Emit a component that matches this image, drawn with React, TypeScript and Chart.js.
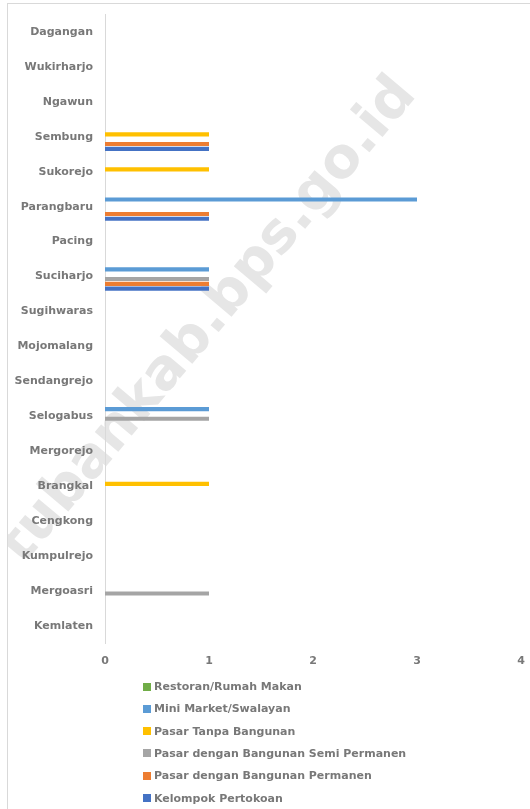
import React, { useEffect, useRef } from "react";
import { Chart, registerables } from "chart.js";

Chart.register(...registerables);

const categories = [
  "Dagangan", "Wukirharjo", "Ngawun", "Sembung", "Sukorejo", "Parangbaru",
  "Pacing", "Suciharjo", "Sugihwaras", "Mojomalang", "Sendangrejo", "Selogabus",
  "Mergorejo", "Brangkal", "Cengkong", "Kumpulrejo", "Mergoasri", "Kemlaten",
];

const seriesNames = [
  "Restoran/Rumah Makan",
  "Mini Market/Swalayan",
  "Pasar Tanpa Bangunan",
  "Pasar dengan Bangunan Semi Permanen",
  "Pasar dengan Bangunan Permanen",
  "Kelompok Pertokoan",
];

const seriesColors = ["#70AD47", "#5B9BD5", "#FFC000", "#A5A5A5", "#ED7D31", "#4472C4"];

const restoran = [0, 0, 0, 0, 0, 0, 0, 0, 0, 0, 0, 0, 0, 0, 0, 0, 0, 0];
const miniMarket = [0, 0, 0, 0, 0, 3, 0, 1, 0, 0, 0, 1, 0, 0, 0, 0, 0, 0];
const pasarTanpa = [0, 0, 0, 1, 1, 0, 0, 0, 0, 0, 0, 0, 0, 1, 0, 0, 0, 0];
const pasarSemi = [0, 0, 0, 0, 0, 0, 0, 1, 0, 0, 0, 1, 0, 0, 0, 0, 1, 0];
const pasarPermanen = [0, 0, 0, 1, 0, 1, 0, 1, 0, 0, 0, 0, 0, 0, 0, 0, 0, 0];
const kelompok = [0, 0, 0, 1, 0, 1, 0, 1, 0, 0, 0, 0, 0, 0, 0, 0, 0, 0];

const seriesValues = [restoran, miniMarket, pasarTanpa, pasarSemi, pasarPermanen, kelompok];

const xTicks = [0, 1, 2, 3, 4];

const FONT = "'DejaVu Sans', Verdana, sans-serif";
const TEXT = "#787878";

export default function App() {
  const canvasRef = useRef<HTMLCanvasElement | null>(null);

  useEffect(() => {
    if (!canvasRef.current) return;
    const chart = new Chart(canvasRef.current, {
      type: "bar",
      data: {
        labels: categories,
        datasets: seriesNames.map((name, i) => ({
          label: name,
          data: seriesValues[i],
          backgroundColor: seriesColors[i],
          borderWidth: 0,
          categoryPercentage: 0.83,
          barPercentage: 0.85,
        })),
      },
      options: {
        indexAxis: "y",
        animation: false,
        responsive: false,
        maintainAspectRatio: false,
        layout: { padding: { left: 0, right: 9, top: 10.5, bottom: 135.5 } },
        plugins: {
          legend: { display: false },
          tooltip: { enabled: false },
        },
        scales: {
          x: {
            min: 0,
            max: 4,
            afterBuildTicks: (axis: any) => {
              axis.ticks = xTicks.map((v) => ({ value: v }));
            },
            afterFit: (axis: any) => {
              axis.height = 30;
              axis.paddingLeft = 0;
              axis.paddingRight = 0;
            },
            grid: { display: false, drawTicks: false },
            border: { display: false },
            ticks: {
              padding: 11,
              color: TEXT,
              font: { family: FONT, size: 11, weight: "bold" },
            },
          },
          y: {
            afterFit: (axis: any) => {
              axis.width = 97;
              axis.paddingTop = 0;
              axis.paddingBottom = 0;
            },
            grid: { display: false, drawTicks: false },
            border: { display: true, color: "#d9d9d9", width: 1 },
            ticks: {
              padding: 12,
              color: TEXT,
              font: { family: FONT, size: 11, weight: "bold" },
            },
          },
        },
      },
    });
    return () => chart.destroy();
  }, []);

  return (
    <div
      style={{
        position: "absolute",
        left: 7,
        top: 3,
        width: 523,
        height: 806,
        borderTop: "1px solid #d9d9d9",
        borderLeft: "1px solid #d9d9d9",
        boxSizing: "border-box",
        overflow: "hidden",
        background: "#ffffff",
        fontFamily: FONT,
      }}
    >
      <div
        style={{
          position: "absolute",
          left: 197,
          top: 314,
          transform: "translate(-50%, -50%) rotate(-50deg)",
          whiteSpace: "nowrap",
          fontFamily: FONT,
          fontWeight: "bold",
          fontSize: 56,
          color: "#e6e6e6",
          zIndex: 0,
        }}
      >
        tubankab.bps.go.id
      </div>
      <canvas
        ref={canvasRef}
        width={522}
        height={805}
        style={{ position: "absolute", left: 0, top: 0, width: 522, height: 805, zIndex: 1 }}
      />
      {seriesNames.map((name, i) => (
        <div
          key={name}
          style={{
            position: "absolute",
            left: 135,
            top: 671.5 + i * 22.3,
            height: 22,
            display: "flex",
            alignItems: "center",
            whiteSpace: "nowrap",
            fontFamily: FONT,
            fontWeight: "bold",
            fontSize: 11,
            color: TEXT,
            zIndex: 2,
          }}
        >
          <span
            style={{
              display: "inline-block",
              width: 8,
              height: 8,
              background: seriesColors[i],
              marginRight: 3,
            }}
          />
          {name}
        </div>
      ))}
    </div>
  );
}
